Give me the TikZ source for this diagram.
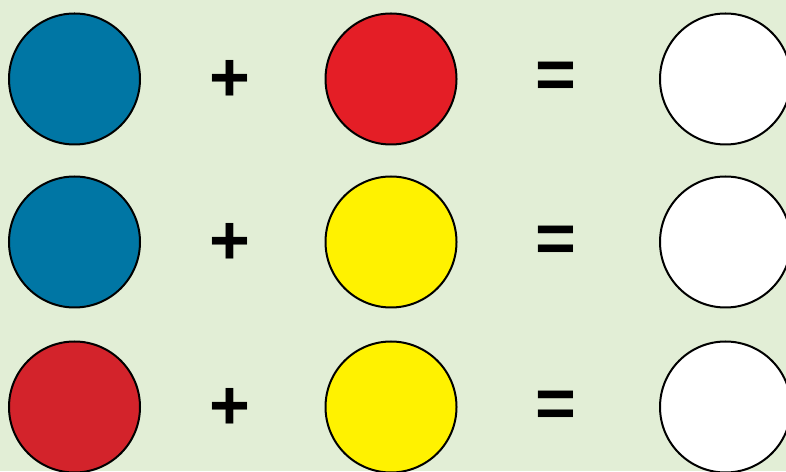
\documentclass[tikz,border=0pt]{standalone}
\usepackage{fontspec}
\setmainfont{Liberation Sans}
\begin{document}
\begin{tikzpicture}[x=1pt,y=1pt,
  dot/.style={circle,draw=black,line width=2pt,minimum size=131pt,inner sep=0pt},
  sym/.style={font=\fontsize{70}{70}\selectfont\bfseries,inner sep=0pt}]
\definecolor{bg}{HTML}{E2EED6}
\definecolor{cblue}{HTML}{0076A4}
\definecolor{credA}{HTML}{E41E26}
\definecolor{credB}{HTML}{D3232B}
\definecolor{cyel}{HTML}{FFF200}
\useasboundingbox (0,0) rectangle (786,471);
\fill[bg] (0,0) rectangle (786,471);
\begin{scope}
\clip (0,0) rectangle (786,471);
% row 1
\node[dot,fill=cblue] (a1) at (74.5,392) {};
\node[sym] (p1) at (230,390.5) {+};
\node[dot,fill=credA] (b1) at (391,392) {};
\node[sym] (e1) at (555.5,390.5) {=};
\node[dot,fill=white] (c1) at (725.5,392) {};
% row 2
\node[dot,fill=cblue] (a2) at (74.5,229) {};
\node[sym] (p2) at (230,227) {+};
\node[dot,fill=cyel] (b2) at (391,229) {};
\node[sym] (e2) at (555.5,227) {=};
\node[dot,fill=white] (c2) at (725.5,229) {};
% row 3
\node[dot,fill=credB] (a3) at (74.5,64) {};
\node[sym] (p3) at (230,62) {+};
\node[dot,fill=cyel] (b3) at (391,64) {};
\node[sym] (e3) at (555.5,62) {=};
\node[dot,fill=white] (c3) at (725.5,64) {};
\end{scope}
\end{tikzpicture}
\end{document}
